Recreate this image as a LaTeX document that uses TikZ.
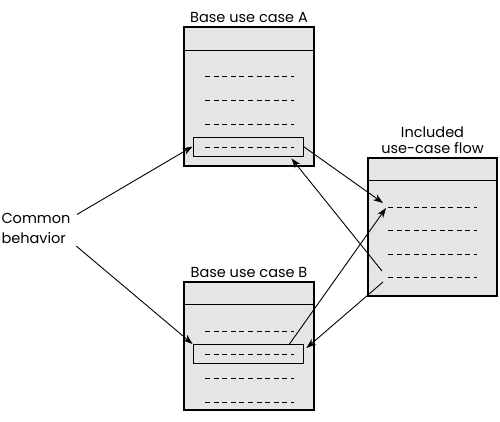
\documentclass[tikz,border=0pt]{standalone}
\usepackage{fontspec}
\setmainfont{Poppins}
\usetikzlibrary{arrows.meta}
\begin{document}
\begin{tikzpicture}[x=1pt, y=-1pt, font=\fontsize{14.5}{20}\selectfont,
  usecase/.style={draw=black, line width=1.1pt, fill=black!10, inner sep=0pt, label distance=1pt},
  part/.style={draw=black, line width=0.9pt, fill=black!10, minimum width=110pt, minimum height=19pt, inner sep=0pt},
  flowline/.style={dash pattern=on 5pt off 3.6pt, line width=0.8pt},
  link/.style={line width=0.9pt, -{Stealth[length=10pt,width=7pt]}}]
\useasboundingbox (0,0) rectangle (500,422);

% base use case A
\node[usecase, minimum width=130pt, minimum height=139pt, label=above:{Base use case A}](A) at (249,96.5) {};
\draw[line width=1.1pt] ([yshift=-24pt]A.north west) -- ([yshift=-24pt]A.north east);
\foreach \y in {76,100,124} \draw[flowline] (205,\y) -- (294,\y);
\node[part](partA) at (248,146.5) {};
\draw[flowline] (205,147) -- (294,147);

% base use case B
\node[usecase, minimum width=130pt, minimum height=128pt, label=above:{Base use case B}](B) at (249,346) {};
\draw[line width=1.1pt] ([yshift=-23pt]B.north west) -- ([yshift=-23pt]B.north east);
\foreach \y in {331,378,402} \draw[flowline] (205,\y) -- (294,\y);
\node[part](partB) at (248,354) {};
\draw[flowline] (205,354) -- (294,354);

% included flow
\node[usecase, minimum width=129pt, minimum height=138pt, label={[align=center, font=\fontsize{14.5}{16}\selectfont]above:{Included\\use-case flow}}](C) at (432.5,227) {};
\draw[line width=1.1pt] ([yshift=-23pt]C.north west) -- ([yshift=-23pt]C.north east);
\foreach \y in {207,230,254,277} \draw[flowline] (388,\y) -- (477,\y);

\coordinate (c1a) at (383,203);
\coordinate (c1b) at (386,208);
\coordinate (c4) at (382,271);
\coordinate (c5) at (383,282);

\node[align=left, inner sep=2pt](common) at (36,228) {Common\\behavior};

\draw[link, shorten <=5pt] ([yshift=11pt]common.east) -- (partA.west);
\draw[link, shorten <=5pt] ([yshift=-15pt]common.east) -- (partB.north west);
\draw[link] (partA.east) -- (c1a);
\draw[link] (c4) -- ([xshift=-12pt,yshift=-2pt]partA.south east);
\draw[link] ([xshift=-14pt]partB.north east) -- (c1b);
\draw[link] (c5) -- ([xshift=3pt,yshift=6pt]partB.east);

\end{tikzpicture}
\end{document}
